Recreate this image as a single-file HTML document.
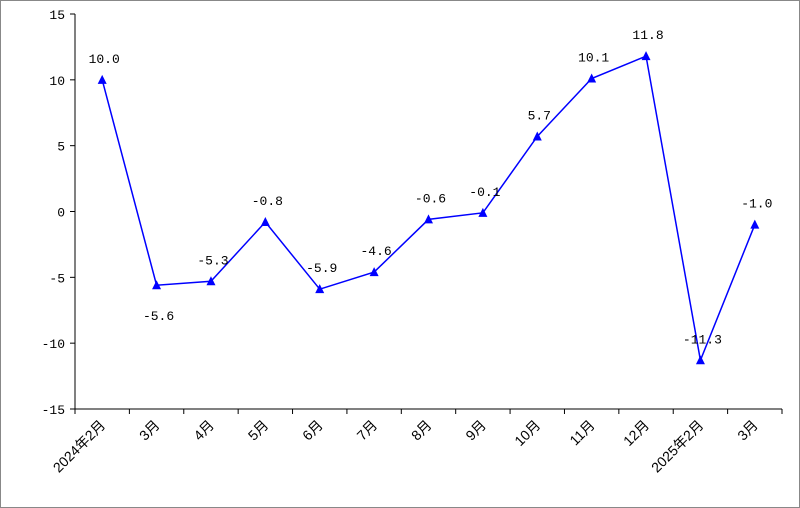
<!DOCTYPE html>
<html><head><meta charset="utf-8"><style>
body{margin:0;background:#fff}
svg{display:block}
text{font-family:"Liberation Mono","Noto Sans CJK SC",monospace;font-size:13px;fill:#000}
text.cat{font-family:"Liberation Sans","Noto Sans CJK SC",sans-serif;font-size:14px}
</style></head><body>
<svg width="800" height="508">
<rect x="0.5" y="0.5" width="799" height="507" fill="#fff" stroke="#888"/>
<g id="axes"></g><g id="series"></g>
</svg>
<script>
const categories=["2024年2月","3月","4月","5月","6月","7月","8月","9月","10月","11月","12月","2025年2月","3月"];
const values=[10.0,-5.6,-5.3,-0.8,-5.9,-4.6,-0.6,-0.1,5.7,10.1,11.8,-11.3,-1.0];
const yTicks=[15,10,5,0,-5,-10,-15];
const labelBelow=[false,true,false,false,false,false,false,false,false,false,false,false,false];
const NS="http://www.w3.org/2000/svg";
const x0=75,x1=782,yTop=14,yBot=409,ymin=-15,ymax=15;
const step=(x1-x0)/categories.length;
const X=i=>x0+step*(i+0.5);
const Y=v=>yBot-(v-ymin)/(ymax-ymin)*(yBot-yTop);
function mk(tag,attrs,parent){const e=document.createElementNS(NS,tag);for(const k in attrs)e.setAttribute(k,attrs[k]);parent.appendChild(e);return e;}
const axes=document.getElementById('axes'),ser=document.getElementById('series');
let yl=mk('line',{x1:x0,y1:yTop,x2:x0,y2:yBot,stroke:'#000'},axes);


let xl=mk('line',{x1:x0,y1:Y(ymin),x2:x1,y2:Y(ymin),stroke:'#000'},axes);


yTicks.forEach(v=>{
  mk('line',{x1:x0-5,y1:Y(v),x2:x0,y2:Y(v),stroke:'#000'},axes);
  const t=mk('text',{x:x0-10,y:Y(v)+5,'text-anchor':'end'},axes);t.textContent=v;
  
  
});
for(let i=0;i<=categories.length;i++){mk('line',{x1:x0+step*i,y1:yBot,x2:x0+step*i,y2:yBot+5,stroke:'#000'},axes);}
categories.forEach((c,i)=>{
  const x=X(i)+4,y=yBot+17;
  const t=mk('text',{x:x,y:y,'text-anchor':'end','class':'cat',transform:`rotate(-45 ${x} ${y})`},axes);t.textContent=c;
  
  
});
const pl=mk('polyline',{points:values.map((v,i)=>X(i)+','+Y(v)).join(' '),fill:'none',stroke:'#0000ff','stroke-width':1.5},ser);


values.forEach((v,i)=>{
  const x=X(i),y=Y(v);
  const m=mk('polygon',{points:`${x},${y-5} ${x-4.5},${y+4} ${x+4.5},${y+4}`,fill:'#0000ff'},ser);
  
  
  const t=mk('text',{x:x+2,y:labelBelow[i]?y+35:y-17,'text-anchor':'middle'},ser);
  t.textContent=v.toFixed(1);
  
  
});
</script>
</body></html>
